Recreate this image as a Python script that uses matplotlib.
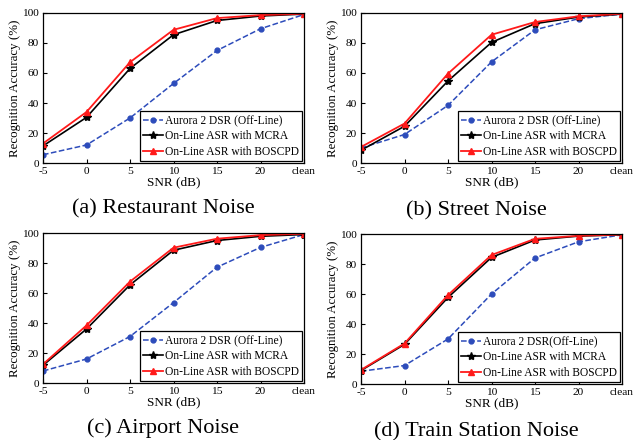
import matplotlib
matplotlib.use('Agg')
import matplotlib.pyplot as plt
import numpy as np

plt.rcParams['font.family'] = ['Liberation Serif', 'DejaVu Serif']

# SNR conditions
snr_labels = ['-5', '0', '5', '10', '15', '20', 'clean']

# (a) Restaurant
rest_aurora = [5.5, 12.0, 30.0, 53.0, 75.0, 89.5, 99.0]
rest_mcra = [11.4, 30.4, 63.0, 85.5, 95.0, 98.0, 99.3]
rest_boscpd = [13.0, 34.0, 67.2, 88.8, 96.6, 98.6, 99.5]

# (b) Street
street_aurora = [10.0, 19.0, 38.4, 67.4, 88.8, 96.2, 99.3]
street_mcra = [8.5, 24.5, 54.7, 80.4, 92.9, 97.3, 99.3]
street_boscpd = [10.7, 26.3, 59.6, 85.5, 94.0, 97.8, 99.5]

# (c) Airport
air_aurora = [8.0, 16.0, 31.0, 53.6, 77.2, 90.4, 99.0]
air_mcra = [11.8, 36.0, 65.4, 88.5, 95.0, 97.8, 99.0]
air_boscpd = [12.5, 38.4, 67.6, 90.2, 96.2, 98.6, 99.5]

# (d) Train station
train_aurora = [8.5, 12.3, 30.0, 60.0, 84.0, 94.8, 99.5]
train_mcra = [9.0, 26.4, 57.7, 84.4, 96.0, 98.6, 99.5]
train_boscpd = [9.4, 27.0, 59.3, 86.0, 96.8, 98.8, 99.6]

panels = [
    ("(a) Restaurant Noise", rest_aurora, rest_mcra, rest_boscpd, "Aurora 2 DSR (Off-Line)"),
    ("(b) Street Noise", street_aurora, street_mcra, street_boscpd, "Aurora 2 DSR (Off-Line)"),
    ("(c) Airport Noise", air_aurora, air_mcra, air_boscpd, "Aurora 2 DSR (Off-Line)"),
    ("(d) Train Station Noise", train_aurora, train_mcra, train_boscpd, "Aurora 2 DSR(Off-Line)"),
]

W, H = 634, 440
fig = plt.figure(figsize=(W / 100, H / 100), dpi=100)

# axes boxes in pixels: left, top, right, bottom
boxes = [(43, 13, 304, 163), (361, 13, 622, 163),
         (43, 233, 304, 383), (361, 234, 622, 384)]
caption_x = [163, 476, 163, 476]
caption_y = [213, 215, 433, 436]

x = np.arange(len(snr_labels))

for i, (title, aur, mcra, bos, aur_label) in enumerate(panels):
    l, t, r, b = boxes[i]
    ax = fig.add_axes([l / W, 1 - b / H, (r - l) / W, (b - t) / H])

    ax.plot(x, aur, '--', color='#2d4cbb', marker='o', markersize=3.5,
            linewidth=1.1, label=aur_label)
    ax.plot(x, mcra, '-', color='black', marker='*', markersize=6,
            linewidth=1.2, label='On-Line ASR with MCRA')
    ax.plot(x, bos, '-', color='#ff1a1a', marker='^', markersize=5,
            linewidth=1.3, label='On-Line ASR with BOSCPD')

    ax.set_xlim(0, 6)
    ax.set_ylim(0, 100)
    ax.set_xticks(x)
    ax.set_xticklabels(snr_labels)
    ax.set_yticks([0, 20, 40, 60, 80, 100])
    ax.tick_params(direction='in', labelsize=8.2, length=3, pad=3)
    ax.set_xlabel('SNR (dB)', fontsize=9.5, labelpad=0)
    ax.set_ylabel('Recognition Accuracy (%)', fontsize=9.3, labelpad=1)
    for s in ax.spines.values():
        s.set_linewidth(0.9)

    leg = ax.legend(loc='lower right', fontsize=8.3, handlelength=1.7,
                    handletextpad=0.15, borderpad=0.3, labelspacing=0.3,
                    borderaxespad=0.15, fancybox=False, framealpha=1)
    leg.get_frame().set_edgecolor('black')
    leg.get_frame().set_linewidth(0.9)

    fig.text(caption_x[i] / W, 1 - caption_y[i] / H, title, fontsize=16,
             ha='center', va='baseline')

fig.savefig('out.png', dpi=100)
